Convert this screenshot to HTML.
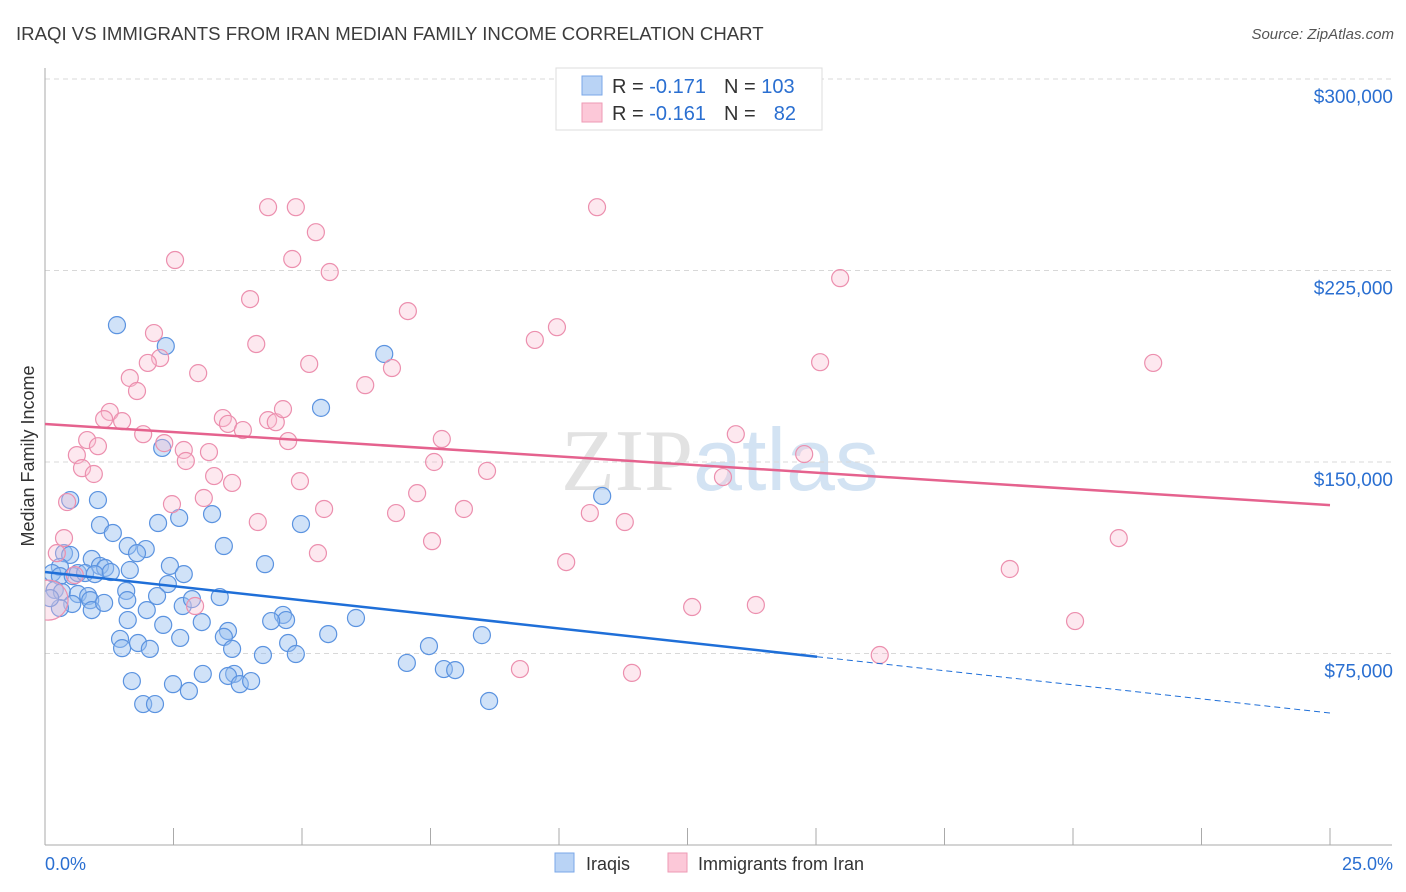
<!DOCTYPE html>
<html><head><meta charset="utf-8"><style>
body{margin:0;background:#fff;font-family:"Liberation Sans",sans-serif;}
svg{display:block}
</style></head><body>
<svg id="chart" width="1406" height="892" xmlns="http://www.w3.org/2000/svg">
<text x="16" y="40" font-size="18.6" fill="#3c3c3c">IRAQI VS IMMIGRANTS FROM IRAN MEDIAN FAMILY INCOME CORRELATION CHART</text>
<text x="1394" y="39" font-size="15" fill="#555" font-style="italic" text-anchor="end">Source: ZipAtlas.com</text>
<text x="720" y="490" font-size="88" text-anchor="middle"><tspan fill="#e2e2e2" font-family="Liberation Serif,serif">ZIP</tspan><tspan fill="#d3e3f3" font-family="Liberation Sans,sans-serif">atlas</tspan></text>
<g id="grid"></g>
<g id="axes"></g>
<defs><clipPath id="plotclip"><rect x="45" y="60" width="1360" height="785"/></clipPath></defs>
<g id="pts" clip-path="url(#plotclip)"></g>
<g id="trend"></g>
<text transform="translate(34,456) rotate(-90)" font-size="18" fill="#333" text-anchor="middle">Median Family Income</text>
<g>
<rect x="556" y="68" width="266" height="62" fill="#fff" stroke="#ddd"/>
<rect x="582" y="76" width="20" height="19" fill="#b9d3f5" stroke="#7aa7e8"/>
<rect x="582" y="103" width="20" height="19" fill="#fcc8d8" stroke="#ee9ab4"/>
<text x="612" y="93" font-size="20" fill="#333">R = <tspan fill="#2a6fd1">-0.171</tspan></text>
<text x="724" y="93" font-size="20" fill="#333">N = <tspan fill="#2a6fd1">103</tspan></text>
<text x="612" y="120" font-size="20" fill="#333">R = <tspan fill="#2a6fd1">-0.161</tspan></text>
<text x="724" y="120" font-size="20" fill="#333">N = </text>
<text x="796" y="120" font-size="20" fill="#2a6fd1" text-anchor="end">82</text>
</g>
<text x="45" y="870" font-size="18" fill="#2a6fd1">0.0%</text>
<text x="1393" y="870" font-size="18" fill="#2a6fd1" text-anchor="end">25.0%</text>
<g><rect x="555" y="853" width="19" height="19" fill="#b9d3f5" stroke="#7aa7e8"/><text x="586" y="870" font-size="18" fill="#333">Iraqis</text></g>
<g><rect x="668" y="853" width="19" height="19" fill="#fcc8d8" stroke="#ee9ab4"/><text x="698" y="870" font-size="18" fill="#333">Immigrants from Iran</text></g>
</svg>
<script>
const yTicks=[75000,150000,225000,300000];
const yTickLabels=["$75,000","$150,000","$225,000","$300,000"];
const xTicks=[0,2.5,5,7.5,10,12.5,15,17.5,20,22.5,25];
const blueX=[1.40,2.35,6.60,5.37,2.28,10.84,0.49,1.03,1.07,1.32,1.61,1.96,1.79,2.61,2.20,3.25,3.48,4.98,4.28,2.43,2.70,2.39,0.37,0.49,0.91,0.29,0.14,0.29,0.54,0.64,0.78,1.07,1.17,0.97,1.28,1.65,0.19,0.33,0.64,0.84,0.88,0.53,0.91,1.15,1.58,1.60,2.18,1.98,2.68,2.86,3.40,1.61,2.30,2.63,1.46,1.50,1.81,2.04,3.05,3.56,3.48,3.64,4.24,4.63,4.69,4.40,4.73,4.88,5.51,6.05,7.47,7.04,7.76,7.98,8.50,1.69,2.49,2.80,1.91,2.14,3.07,3.68,3.56,3.79,4.01,8.64,0.29,0.10];
const blueY=[203.6,195.4,192.3,171.2,155.5,136.7,135.1,135.1,125.3,122.2,117.1,115.9,114.3,128.1,126.1,129.6,117.1,125.7,110.0,109.3,106.1,102.2,114.3,113.6,112.0,108.9,106.5,105.3,105.3,106.5,106.5,109.3,108.5,106.1,106.9,107.7,99.9,99.1,98.3,97.5,95.9,94.4,92.0,94.8,99.5,95.9,97.5,92.0,93.6,96.3,97.1,88.1,86.2,81.1,80.7,77.1,79.1,76.8,87.3,83.8,81.5,76.8,74.4,90.1,88.1,87.7,79.1,74.8,82.6,88.9,77.9,71.3,68.9,68.5,82.2,64.2,63.0,60.3,55.2,55.2,67.0,67.0,66.2,63.0,64.2,56.4,92.8,96.7];
const pinkX=[4.34,4.88,10.74,5.27,2.53,4.81,5.54,15.47,3.99,7.06,9.96,9.53,2.12,4.11,2.24,2.00,15.08,21.56,5.14,6.75,6.23,1.65,1.79,2.98,1.26,1.15,1.50,3.46,3.56,3.85,4.34,4.49,4.63,1.91,2.32,0.82,1.03,7.72,13.44,2.70,3.19,2.74,4.73,0.62,0.72,0.95,14.77,7.57,8.60,3.29,3.64,4.96,13.19,7.24,3.09,0.43,2.47,8.15,5.43,6.83,10.60,11.28,4.14,0.37,5.31,7.53,20.89,10.14,18.77,0.23,2.92,12.59,13.83,20.04,16.24,9.24,11.42,0.58];
const pinkY=[249.8,249.8,249.8,240.0,229.1,229.5,224.4,222.0,213.8,209.1,202.8,197.8,200.5,196.2,190.7,188.8,189.1,188.8,188.4,186.8,180.1,182.9,177.8,184.8,169.6,166.8,166.0,167.2,164.9,162.5,166.4,165.6,170.7,160.9,157.4,158.6,156.2,159.0,160.9,154.7,153.9,150.4,158.2,152.7,147.6,145.3,153.1,150.0,146.5,144.5,141.8,142.5,144.1,137.8,135.9,134.3,133.5,131.6,131.6,130.0,130.0,126.5,126.5,120.2,114.3,119.0,120.2,110.8,108.1,114.3,93.6,93.2,94.0,87.7,74.4,68.9,67.4,105.7];
const blueTrend=[106.9,51.7];
const pinkTrend=[164.9,133.1];
const NS="http://www.w3.org/2000/svg";
const xs=v=>45+v/25*1285;
const ys=v=>845-v/75000*191.5;
function mk(t,a,p){const e=document.createElementNS(NS,t);for(const k in a)e.setAttribute(k,a[k]);document.getElementById(p).appendChild(e);return e;}
yTicks.forEach((t,i)=>{
 const l=mk('line',{x1:45,x2:1392,y1:ys(t),y2:ys(t),stroke:'#d8d8d8','stroke-dasharray':'5,4'},'grid');
 
 
 const tx=mk('text',{x:1393,y:ys(t)+24,'font-size':19,fill:'#2a6fd1','text-anchor':'end'},'grid');
 tx.textContent=yTickLabels[i];
 
 
});
const ax=mk('line',{x1:45,x2:1392,y1:845,y2:845,stroke:'#aaa'},'axes');


const ay=mk('line',{x1:45,x2:45,y1:68,y2:845,stroke:'#aaa'},'axes');


xTicks.forEach(t=>{
 const l=mk('line',{x1:xs(t),x2:xs(t),y1:828,y2:845,stroke:'#aaa'},'axes');
 
 
});
blueX.forEach((x,i)=>{
 const c=mk('circle',{cx:xs(x),cy:ys(blueY[i]*1000),r:8.5,fill:'rgba(150,190,240,0.45)',stroke:'#5b93e0','stroke-width':1.2},'pts');
 
 
});
pinkX.forEach((x,i)=>{
 const c=mk('circle',{cx:xs(x),cy:ys(pinkY[i]*1000),r:8.5,fill:'rgba(250,190,210,0.35)',stroke:'#ec8fae','stroke-width':1.2},'pts');
 
 
});
const big=mk('circle',{cx:xs(0.06),cy:ys(95900),r:20,fill:'rgba(250,190,210,0.35)',stroke:'#ec8fae','stroke-width':1.2},'pts');


const bAt=x=>blueTrend[0]+(blueTrend[1]-blueTrend[0])*x/25;
const b1=mk('line',{x1:xs(0),y1:ys(bAt(0)*1000),x2:xs(15.02),y2:ys(bAt(15.02)*1000),stroke:'#1f6fd8','stroke-width':2.5},'trend');


const b2=mk('line',{x1:xs(15.02),y1:ys(bAt(15.02)*1000),x2:xs(25),y2:ys(bAt(25)*1000),stroke:'#1f6fd8','stroke-width':1,'stroke-dasharray':'6,4'},'trend');


const p1=mk('line',{x1:xs(0),y1:ys(pinkTrend[0]*1000),x2:xs(25),y2:ys(pinkTrend[1]*1000),stroke:'#e5628e','stroke-width':2.5},'trend');


</script>
</body></html>
